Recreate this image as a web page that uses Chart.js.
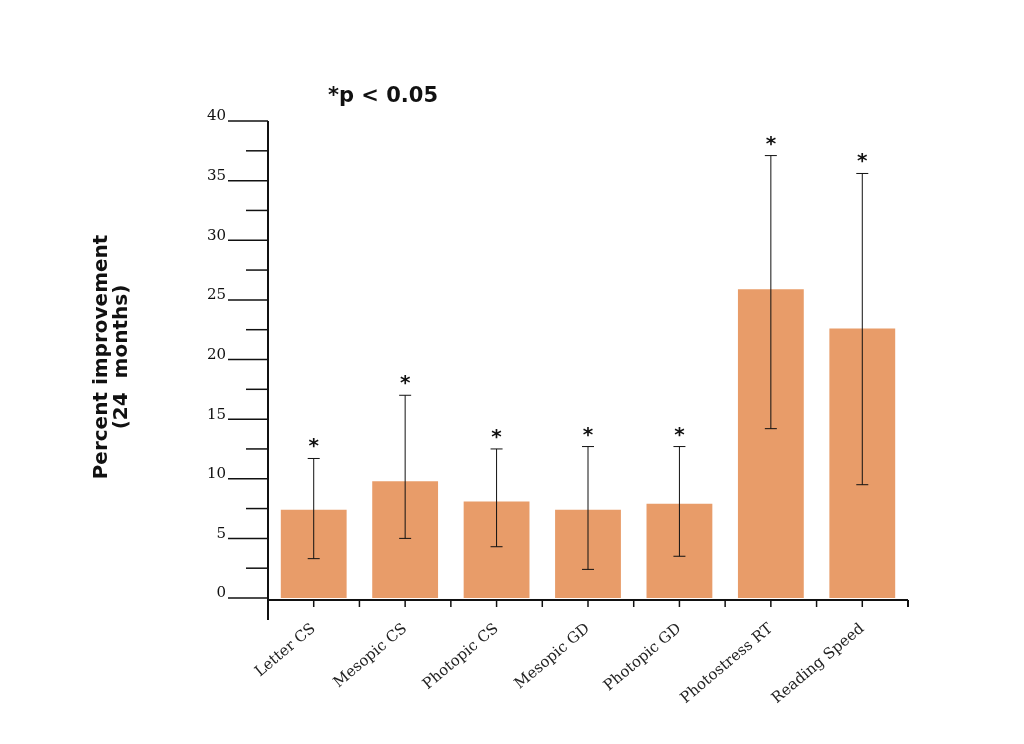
<!doctype html>
<html>
<head>
<script src="https://cdn.jsdelivr.net/npm/chart.js"></script>
<style>body{margin:0;background:#fff}</style>
</head>
<body>
<div style="width:1024px;height:744px"><canvas id="c"></canvas></div>
<script>
const labels = ['Letter CS', 'Mesopic CS', 'Photopic CS', 'Mesopic GD', 'Photopic GD', 'Photostress RT', 'Reading Speed']
const means = [7.4, 9.8, 8.1, 7.4, 7.9, 25.9, 22.6]
const errHigh = [11.7, 17.0, 12.5, 12.7, 12.7, 37.1, 35.6]
const errLow = [3.3, 5.0, 4.3, 2.4, 3.5, 14.2, 9.5]
const yTicks = [0, 5, 10, 15, 20, 25, 30, 35, 40]

const decor = {
    id: 'decor',
    afterDatasetsDraw(chart) {
        const ctx = chart.ctx, x = chart.scales.x, y = chart.scales.y
        const ca = chart.chartArea
        ctx.save()
        ctx.strokeStyle = '#111'
        ctx.fillStyle = '#111'
        ctx.lineWidth = 1
        // error bars and stars
        means.forEach((m, i) => {
            const cx = x.getPixelForValue(i)
            const hi = y.getPixelForValue(errHigh[i]), lo = y.getPixelForValue(errLow[i])
            ctx.beginPath()
            ctx.moveTo(cx, hi); ctx.lineTo(cx, lo)
            ctx.moveTo(cx - 6, hi); ctx.lineTo(cx + 6, hi)
            ctx.moveTo(cx - 6, lo); ctx.lineTo(cx + 6, lo)
            ctx.stroke()
            ctx.font = 'bold 20px "DejaVu Sans"'
            ctx.textAlign = 'center'
            ctx.fillText('*', cx, hi - 6)
        })
        // axes
        ctx.lineWidth = 2
        ctx.beginPath()
        ctx.moveTo(ca.left, ca.top); ctx.lineTo(ca.left, ca.bottom + 22)
        ctx.moveTo(ca.left, ca.bottom + 2); ctx.lineTo(ca.right, ca.bottom + 2)
        ctx.moveTo(ca.right, ca.bottom + 2); ctx.lineTo(ca.right, ca.bottom + 9)
        ctx.stroke()
        ctx.lineWidth = 1.5
        for (let v = 0; v <= 40; v += 2.5) {
            const py = y.getPixelForValue(v)
            const major = v % 5 === 0
            ctx.beginPath()
            ctx.moveTo(major ? ca.left - 40 : ca.left - 22, py); ctx.lineTo(ca.left, py)
            ctx.stroke()
        }
        ctx.font = '15px "DejaVu Serif"'
        ctx.textAlign = 'right'
        ctx.textBaseline = 'bottom'
        yTicks.forEach(v => ctx.fillText(String(v), ca.left - 42, y.getPixelForValue(v) + 3))
        labels.forEach((l, i) => {
            const cx = x.getPixelForValue(i)
            ctx.beginPath(); ctx.moveTo(cx, ca.bottom + 2); ctx.lineTo(cx, ca.bottom + 9); ctx.stroke()
            const bx = cx - (x.getPixelForValue(1) - x.getPixelForValue(0)) / 2
            ctx.beginPath(); ctx.moveTo(bx, ca.bottom + 2); ctx.lineTo(bx, ca.bottom + 9); ctx.stroke()
        })
        // titles
        ctx.font = 'bold 21px "DejaVu Sans"'
        ctx.textAlign = 'left'
        ctx.textBaseline = 'middle'
        ctx.fillText('*p < 0.05', 328, 97)
        ctx.translate(112, 357)
        ctx.rotate(-Math.PI / 2)
        ctx.textAlign = 'center'
        ctx.font = 'bold 20px "DejaVu Sans"'
        ctx.fillText('Percent improvement', 0, -10)
        ctx.fillText('(24  months)', 0, 10)
        ctx.restore()
    }
}

new Chart(document.getElementById('c'), {
    type: 'bar',
    data: {
        labels: labels,
        datasets: [{
            data: means,
            backgroundColor: '#e89c69',
            categoryPercentage: 1,
            barPercentage: 0.72
        }]
    },
    options: {
        responsive: true,
        maintainAspectRatio: false,
        animation: false,
        layout: { padding: { top: 121, right: 116, left: 0, bottom: 0 } },
        plugins: { legend: { display: false }, tooltip: { enabled: false } },
        scales: {
            x: {
                grid: { display: false },
                border: { display: false },
                afterFit: s => { s.width = 640; s.height = 146 },
                ticks: {
                    maxRotation: 40, minRotation: 40, padding: 14,
                    color: '#222', font: { family: 'DejaVu Serif', size: 15 }
                }
            },
            y: {
                min: 0, max: 40,
                grid: { display: false },
                border: { display: false },
                ticks: { display: false },
                afterFit: s => { s.width = 268 }
            }
        }
    },
    plugins: [decor]
})
</script>
</body>
</html>
